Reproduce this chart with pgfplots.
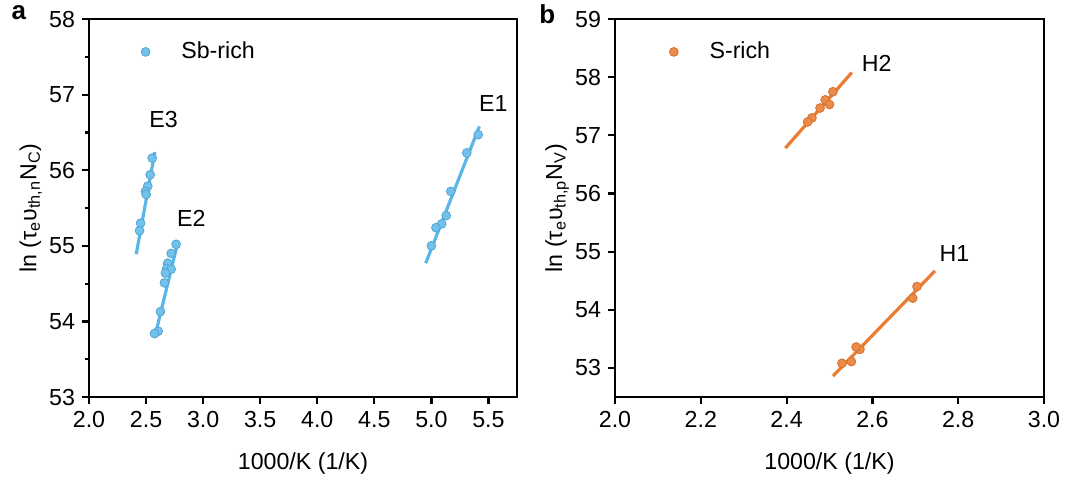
\documentclass[border=0pt]{standalone}
\usepackage{fontspec}
\setmainfont{Liberation Sans}
\usepackage{pgfplots}
\pgfplotsset{compat=1.18}
\definecolor{skyb}{RGB}{90,183,232}
\definecolor{orng}{RGB}{234,125,50}

\newcommand{\lbl}{\fontsize{11.6}{13}\selectfont}

\pgfplotsset{panel/.style={
  scale only axis, height=189pt, clip=false,
  axis line style={line width=1.2pt},
  tick pos=left, tick align=outside,
  major tick length=3.5pt, minor tick length=2pt,
  every tick/.style={black,line width=1.1pt},
  tick label style={font=\lbl},
  label style={font=\lbl},
  /pgf/number format/assume math mode=true,
  xticklabel style={/pgf/number format/.cd,fixed,fixed zerofill,precision=1},
  legend style={draw=none,fill=none,font=\lbl,inner sep=0pt},
  legend cell align=left,
}}
\pgfplotsset{ptlegend/.style={legend image code/.code={%
  \draw[##1] plot[only marks] coordinates {(0.5cm,0cm)};
  \path (0cm,0cm) (1.05cm,0cm);}}}

\begin{document}
\begin{tikzpicture}
\useasboundingbox (-44.5pt,-41pt) rectangle (489.5pt,198.5pt);

% panel a
\begin{axis}[panel, width=214pt,
  xmin=2, xmax=5.75, ymin=53, ymax=58,
  xtick={2,2.5,...,5.5}, ytick={53,...,58}, minor ytick={53.5,54.5,...,57.5},
  xlabel={1000/K (1/K)},
  ylabel={ln (τ\textsubscript{e}υ\textsubscript{th,n}N\textsubscript{C})},
  xlabel style={at={(axis description cs:0.5,-0.175)},anchor=center},
  ylabel style={at={(axis description cs:-0.136,0.5)},anchor=center},
  legend style={at={(axis description cs:0.064,0.913)},anchor=west}]
\addplot[skyb, line width=1.6pt, forget plot] coordinates {(4.95,54.77) (5.42,56.58)};
\addplot[skyb, line width=1.6pt, forget plot] coordinates {(2.414,54.89) (2.577,56.24)};
\addplot[skyb, line width=1.6pt, forget plot] coordinates {(2.574,53.78) (2.777,55.04)};
\addplot[only marks, mark=*, mark size=2.2pt, mark options={draw=skyb!90!black, fill=skyb!85!white, line width=0.4pt}, ptlegend] coordinates {
  (5.41,56.47) (5.31,56.23) (5.17,55.72) (5.13,55.40) (5.09,55.29) (5.04,55.24) (5.00,55.00)
  (2.554,56.16) (2.536,55.94) (2.515,55.79) (2.495,55.72) (2.501,55.68) (2.452,55.30) (2.443,55.20)
  (2.763,55.02) (2.720,54.90) (2.690,54.77) (2.681,54.70) (2.720,54.69) (2.670,54.64)
  (2.661,54.51) (2.626,54.13) (2.606,53.87) (2.574,53.84)};
\addlegendentry{Sb-rich}
\node[font=\lbl] at (axis cs:5.543,56.88) {E1};
\node[font=\lbl] at (axis cs:2.897,55.36) {E2};
\node[font=\lbl] at (axis cs:2.654,56.67) {E3};
\node[font=\fontsize{13}{15}\selectfont\bfseries] at (axis description cs:-0.164,1.016) {a};
\end{axis}

% panel b
\begin{axis}[panel, width=214.5pt, at={(263pt,0pt)},
  xmin=2, xmax=3, ymin=52.5, ymax=59,
  xtick={2,2.2,...,3.01}, ytick={53,...,59},
  xlabel={1000/K (1/K)},
  ylabel={ln (τ\textsubscript{e}υ\textsubscript{th,p}N\textsubscript{V})},
  xlabel style={at={(axis description cs:0.5,-0.175)},anchor=center},
  ylabel style={at={(axis description cs:-0.135,0.5)},anchor=center},
  legend style={at={(axis description cs:0.069,0.913)},anchor=west}]
\addplot[orng, line width=1.6pt, forget plot] coordinates {(2.397,56.78) (2.552,58.08)};
\addplot[orng, line width=1.6pt, forget plot] coordinates {(2.508,52.86) (2.746,54.67)};
\addplot[only marks, mark=*, mark size=2.2pt, mark options={draw=orng!90!black, fill=orng!90!white, line width=0.4pt}, ptlegend] coordinates {
  (2.508,57.75) (2.490,57.61) (2.500,57.53) (2.478,57.47) (2.459,57.30) (2.449,57.23)
  (2.704,54.40) (2.694,54.20) (2.571,53.32) (2.562,53.36) (2.551,53.11) (2.529,53.08)};
\addlegendentry{S-rich}
\node[font=\lbl] at (axis cs:2.610,58.24) {H2};
\node[font=\lbl] at (axis cs:2.791,54.96) {H1};
\node[font=\fontsize{13}{15}\selectfont\bfseries] at (axis description cs:-0.158,1.012) {b};
\end{axis}
\end{tikzpicture}
\end{document}
